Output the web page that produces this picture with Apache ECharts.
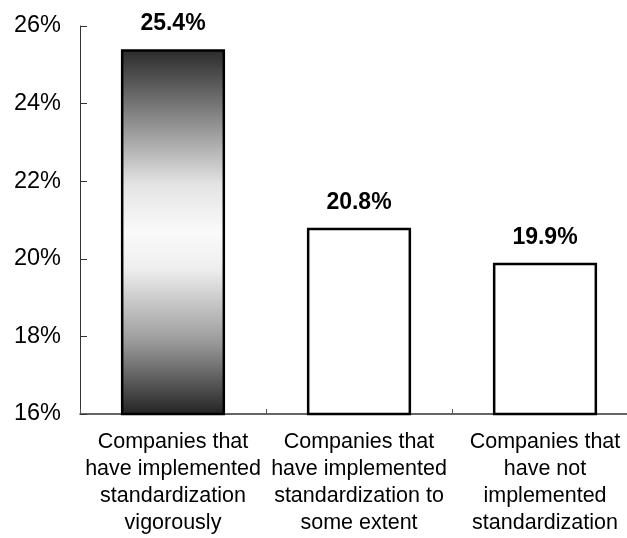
<!DOCTYPE html>
<html>
<head>
<meta charset="utf-8">
<script src="https://cdn.jsdelivr.net/npm/echarts@6/dist/echarts.min.js"></script>
<style>
  html, body { margin: 0; padding: 0; background: #fff; overflow: hidden; }
  /* the plot's last category runs slightly past the right edge of the window */
  #chart { width: 638px; height: 538px; }
</style>
</head>
<body>
<div id="chart"></div>
<script>
// Share of companies by degree of standardization
const categories = [
  'Companies that\nhave implemented\nstandardization\nvigorously',
  'Companies that\nhave implemented\nstandardization to\nsome extent',
  'Companies that\nhave not\nimplemented\nstandardization'
];
const values = [25.4, 20.8, 19.9];
const yTicks = { min: 16, max: 26, step: 2 };

const FONT = '"Liberation Sans", Arial, sans-serif';

const chart = echarts.init(document.getElementById('chart'), null, { renderer: 'canvas' });

const barData = values.map((v, i) => {
  const item = { value: v };
  if (i === 0) {
    // metallic dark-light-dark fill for the leading bar
    item.itemStyle = {
      color: new echarts.graphic.LinearGradient(0, 0, 0, 1, [
        { offset: 0, color: '#2a2a2a' },
        { offset: 0.15, color: '#757575' },
        { offset: 0.37, color: '#e4e4e4' },
        { offset: 0.5, color: '#fafafa' },
        { offset: 0.6, color: '#eeeeee' },
        { offset: 0.8, color: '#9a9a9a' },
        { offset: 1, color: '#222222' }
      ])
    };
  }
  return item;
});

chart.setOption({
  animation: false,
  backgroundColor: '#ffffff',
  grid: { left: 80, top: 26, bottom: 124, right: 0, containLabel: false },
  xAxis: {
    type: 'category',
    data: categories,
    axisLine: { lineStyle: { color: '#333', width: 1.5 } },
    axisTick: { show: true, inside: true, length: 5, alignWithLabel: false, lineStyle: { color: '#555' } },
    axisLabel: {
      interval: 0,
      margin: 14,
      color: '#000',
      fontFamily: FONT,
      fontSize: 21.5,
      lineHeight: 27.3
    }
  },
  yAxis: {
    type: 'value',
    min: yTicks.min,
    max: yTicks.max,
    interval: yTicks.step,
    splitLine: { show: false },
    axisLine: { show: true, lineStyle: { color: '#333', width: 1 } },
    axisTick: { show: true, inside: true, length: 7, lineStyle: { color: '#333' } },
    axisLabel: {
      formatter: '{value}%',
      margin: 19,
      color: '#000',
      fontFamily: FONT,
      fontSize: 23.5
    }
  },
  series: [{
    type: 'bar',
    data: barData,
    barWidth: '56%',
    itemStyle: { color: '#ffffff', borderColor: '#000', borderWidth: 2.5 },
    label: {
      show: true,
      position: 'top',
      distance: 14,
      formatter: p => p.value.toFixed(1) + '%',
      color: '#000',
      fontFamily: FONT,
      fontWeight: 'bold',
      fontSize: 23
    }
  }]
});
</script>
</body>
</html>
